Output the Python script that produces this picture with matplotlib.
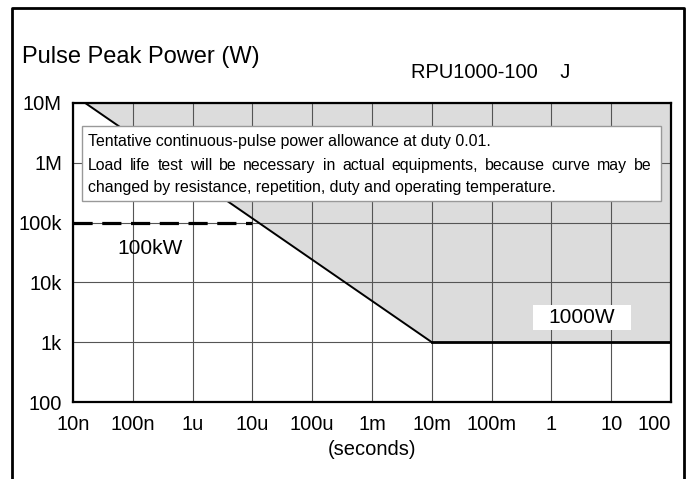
import matplotlib
matplotlib.use("Agg")
import matplotlib.pyplot as plt
from matplotlib.lines import Line2D
from matplotlib.patches import Rectangle

plt.rcParams['font.family'] = ['Liberation Sans', 'DejaVu Sans']

# pulse width (s) vs allowed peak power (W)
t_curve = [1.6e-8, 1e-2, 1e2]
p_curve = [1e7, 1e3, 1e3]
t_limit = [1e-8, 1e-5]
p_limit = [1e5, 1e5]

x_ticks = [1e-8, 1e-7, 1e-6, 1e-5, 1e-4, 1e-3, 1e-2, 1e-1, 1, 10, 100]
x_labels = ['10n', '100n', '1u', '10u', '100u', '1m', '10m', '100m', '1', '10', '100']
y_ticks = [1e2, 1e3, 1e4, 1e5, 1e6, 1e7]
y_labels = ['100', '1k', '10k', '100k', '1M', '10M']

note = ["Tentative continuous-pulse power allowance at duty 0.01.",
        "Load life test will be necessary in actual equipments, because curve may be",
        "changed by resistance, repetition, duty and operating temperature."]

fig = plt.figure(figsize=(6.9, 4.79), dpi=100)
ax = fig.add_axes([73/690, 1 - 402/479, 598/690, 299/479])
ax.set_xscale('log')
ax.set_yscale('log')
ax.set_xlim(1e-8, 100)
ax.set_ylim(1e2, 1e7)

# shaded "not allowed" region above the curve
ax.fill_between(t_curve, p_curve, 1e7, color='#dcdcdc', lw=0, zorder=1)
ax.plot(t_curve[:2], p_curve[:2], color='black', lw=1.4, zorder=3)
ax.plot(t_curve[1:], p_curve[1:], color='black', lw=2.0, zorder=3)
ax.plot(t_limit, p_limit, color='black', lw=2.3, ls=(0, (6, 3)), zorder=3)

ax.set_xticks(x_ticks)
ax.set_xticklabels(x_labels)
ax.set_yticks(y_ticks)
ax.set_yticklabels(y_labels)
ax.minorticks_off()
ax.tick_params(length=0, labelsize=14.5)
ax.tick_params(axis='x', pad=9)
ax.tick_params(axis='y', pad=8)
ax.get_xticklabels()[-1].set_horizontalalignment('right')
ax.set_axisbelow(False)
ax.grid(True, color='#555555', lw=0.8)
for s in ax.spines.values():
    s.set_linewidth(1.6)
    s.set_zorder(5)

ax.set_xlabel('(seconds)', fontsize=14.5, labelpad=5)

# note box
ax.add_patch(Rectangle((0.015, 0.672), 0.968, 0.251, transform=ax.transAxes,
                       facecolor='white', edgecolor='#999999', lw=1, zorder=4))
note_y = [0.870, 0.790, 0.716]
note_fs = 11.4
renderer = fig.canvas.get_renderer()
for i, (y, line) in enumerate(zip(note_y, note)):
    if i != 1:
        ax.text(0.025, y, line, transform=ax.transAxes, fontsize=note_fs,
                va='center', ha='left', zorder=5)
        continue
    # second line is justified to the box width
    words = line.split()
    x0, x1 = 88, 652
    objs = [ax.text(0, y, w, transform=ax.transAxes, fontsize=note_fs,
                    va='center', ha='left', zorder=5) for w in words]
    widths = [o.get_window_extent(renderer).width for o in objs]
    gap = (x1 - x0 - sum(widths)) / (len(words) - 1)
    x = x0
    for o, w in zip(objs, widths):
        o.set_x((x - 73) / 598)
        x += w + gap

ax.text(0.129, 0.515, '100kW', transform=ax.transAxes, fontsize=15,
        ha='center', va='center', zorder=5)
ax.add_patch(Rectangle((0.769, 0.241), 0.164, 0.083, transform=ax.transAxes,
                       facecolor='white', edgecolor='none', zorder=4))
ax.text(0.851, 0.283, '1000W', transform=ax.transAxes, fontsize=15,
        ha='center', va='center', zorder=5)

fig.text(22/690, 1 - 57/479, 'Pulse Peak Power (W)', fontsize=17,
         ha='left', va='center')
fig.text(411/690, 1 - 72/479, 'RPU1000-100    J', fontsize=14.5,
         ha='left', va='center')

# outer frame (open at the bottom)
fig.add_artist(Line2D([12/690, 12/690, 684/690, 684/690],
                      [-0.05, 1 - 8/479, 1 - 8/479, -0.05],
                      transform=fig.transFigure, color='black', lw=2))

fig.savefig('out.png', dpi=100)
